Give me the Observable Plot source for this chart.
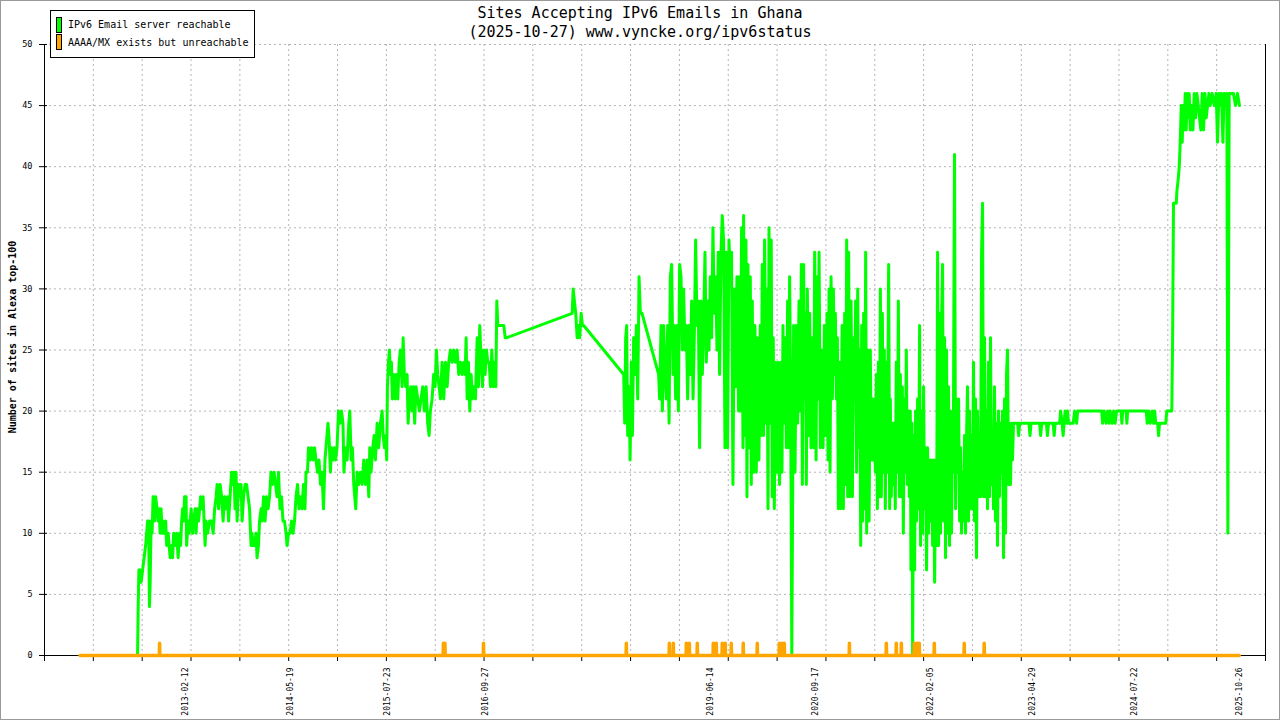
<!DOCTYPE html>
<html>
<head>
<meta charset="utf-8">
<script src="https://cdn.jsdelivr.net/npm/d3@7"></script>
<script src="https://cdn.jsdelivr.net/npm/@observablehq/plot@0.6"></script>
<style>
  html, body { margin: 0; padding: 0; background: #fff; }
  #wrap { position: relative; width: 1280px; height: 720px; overflow: hidden; background: #fff; font-family: "DejaVu Sans Mono", "Liberation Mono", monospace; }
  #chart { position: absolute; left: 0; top: 0; }
  .title { position: absolute; left: 0; top: 4px; width: 1280px; text-align: center; font-size: 15px; line-height: 19px; color: #000; }
  .legend { position: absolute; left: 50px; top: 10px; width: 205px; height: 48px; box-sizing: border-box; border: 1px solid #000; background: #fff; }
  .sw { position: absolute; width: 6px; box-sizing: border-box; border: 1px solid #000; }
  .lt { position: absolute; font-size: 10px; line-height: 14px; white-space: pre; color: #000; }
  .frame { position: absolute; left: 0; top: 0; width: 1280px; height: 720px; box-sizing: border-box; border: 1px solid #9a9a9a; pointer-events: none; }
</style>
</head>
<body>
<div id="wrap">
  <div id="chart"></div>
  <div class="title" id="title"></div>
  <div id="legend"></div>
  <div class="frame"></div>
</div>
<script>
// ---- text ----
const titleLines = ["Sites Accepting IPv6 Emails in Ghana", "(2025-10-27) www.vyncke.org/ipv6status"];
const yAxisLabel = "Number of sites in Alexa top-100";
const seriesNames = ["IPv6 Email server reachable", "AAAA/MX exists but unreachable"];
const seriesColors = ["#00ff00", "#ffa500"];

// ---- axes ----
const xDomain = ["2011-06-04", "2026-02-17"];
const xTickCount = 25;
const xLabelDates = ["2013-02-12", "2014-05-19", "2015-07-23", "2016-09-27", "2019-06-14", "2020-09-17", "2022-02-05", "2023-04-29", "2024-07-22", "2025-10-26"];
const yTicks = [0, 5, 10, 15, 20, 25, 30, 35, 40, 45, 50];

// ---- data: [decimal year, number of sites] ----
const reachable = [
[2011.851,0],[2012.542,0],[2012.550,4],[2012.558,7],[2012.573,7],[2012.585,6],[2012.603,7],[2012.621,8],[2012.639,9],[2012.651,10],[2012.663,11],[2012.675,11],[2012.685,4],[2012.694,6],[2012.705,11],[2012.717,10],[2012.729,13],[2012.747,11],[2012.759,13],[2012.777,12],[2012.789,11],[2012.801,12],[2012.813,10],[2012.825,12],[2012.837,10],[2012.849,11],[2012.862,10],[2012.880,11],[2012.892,9],[2012.910,10],[2012.922,9],[2012.934,8],[2012.952,9],[2012.964,8],[2012.976,10],[2012.994,9],
[2013.012,10],[2013.030,8],[2013.048,10],[2013.060,9],[2013.072,11],[2013.084,12],[2013.096,11],[2013.108,13],[2013.126,13],[2013.132,9],[2013.151,11],[2013.163,10],[2013.175,11],[2013.187,12],[2013.205,10],[2013.217,11],[2013.235,12],[2013.247,10],[2013.259,12],[2013.277,11],[2013.289,12],[2013.301,13],[2013.319,12],[2013.331,13],[2013.343,11],[2013.355,9],[2013.367,11],[2013.385,10],[2013.409,11],[2013.433,11],[2013.452,10],[2013.470,12],[2013.488,13],[2013.500,14],[2013.518,12],[2013.536,14],[2013.554,13],[2013.572,11],[2013.590,13],[2013.608,12],[2013.626,13],[2013.638,11],[2013.656,13],[2013.674,15],[2013.692,14],[2013.704,15],[2013.716,12],[2013.728,15],[2013.741,11],[2013.759,14],[2013.771,13],[2013.789,14],[2013.801,11],[2013.819,13],[2013.837,14],[2013.855,14],[2013.873,13],[2013.891,12],[2013.909,9],[2013.921,10],[2013.933,9],[2013.951,9],[2013.969,10],[2013.981,8],[2013.999,9],
[2014.011,11],[2014.030,12],[2014.042,11],[2014.060,13],[2014.078,11],[2014.096,13],[2014.114,12],[2014.132,13],[2014.150,15],[2014.168,14],[2014.186,15],[2014.204,14],[2014.222,13],[2014.240,15],[2014.258,12],[2014.276,13],[2014.294,11],[2014.312,11],[2014.331,10],[2014.343,9],[2014.361,10],[2014.379,10],[2014.397,11],[2014.415,10],[2014.433,11],[2014.451,13],[2014.469,14],[2014.487,12],[2014.505,13],[2014.523,12],[2014.541,14],[2014.559,12],[2014.571,15],[2014.589,15],[2014.601,17],[2014.620,16],[2014.638,17],[2014.656,16],[2014.674,17],[2014.692,16],[2014.710,15],[2014.728,16],[2014.746,14],[2014.764,15],[2014.782,12],[2014.800,16],[2014.812,17],[2014.824,18],[2014.836,19],[2014.848,18],[2014.866,15],[2014.878,17],[2014.896,16],[2014.914,17],[2014.927,16],[2014.945,17],[2014.963,20],[2014.981,19],[2014.999,20],[2015.017,19],[2015.029,15],
[2015.047,17],[2015.067,16],[2015.087,19],[2015.099,20],[2015.116,16],[2015.131,17],[2015.147,14],[2015.159,13],[2015.171,12],[2015.188,15],[2015.207,14],[2015.228,15],[2015.248,14],[2015.267,16],[2015.288,14],[2015.308,16],[2015.328,13],[2015.340,17],[2015.356,15],[2015.376,17],[2015.393,18],[2015.408,16],[2015.429,19],[2015.448,17],[2015.468,19],[2015.489,20],[2015.501,18],[2015.517,17],[2015.532,18],[2015.544,16],[2015.553,22],[2015.565,24],[2015.577,25],[2015.589,23],[2015.601,24],[2015.613,21],[2015.629,23],[2015.645,21],[2015.661,23],[2015.677,21],[2015.694,24],[2015.709,25],[2015.730,22],[2015.742,26],[2015.757,23],[2015.773,22],[2015.790,23],[2015.802,19],[2015.818,21],[2015.833,22],[2015.850,20],[2015.866,22],[2015.881,19],[2015.898,22],[2015.918,21],[2015.938,20],[2015.958,21],[2015.978,22],[2015.998,20],
[2016.019,22],[2016.038,19],[2016.055,18],[2016.070,20],[2016.091,21],[2016.110,23],[2016.127,22],[2016.143,25],[2016.158,23],[2016.175,22],[2016.191,21],[2016.211,24],[2016.231,21],[2016.251,24],[2016.272,22],[2016.291,24],[2016.311,25],[2016.332,24],[2016.351,25],[2016.371,24],[2016.392,25],[2016.411,23],[2016.432,24],[2016.452,23],[2016.471,24],[2016.488,23],[2016.500,26],[2016.512,21],[2016.528,24],[2016.544,20],[2016.560,23],[2016.576,21],[2016.592,22],[2016.612,21],[2016.633,26],[2016.648,22],[2016.664,27],[2016.681,24],[2016.697,22],[2016.712,25],[2016.729,23],[2016.745,25],[2016.760,24],[2016.777,24],[2016.793,22],[2016.809,25],[2016.825,22],[2016.841,24],[2016.857,22],[2016.869,29],[2016.881,27],[2016.913,27],[2016.953,27],[2016.970,26],[2016.986,26],
[2017.777,28],[2017.789,30],[2017.804,29],[2017.820,28],[2017.837,26],[2017.852,27],[2017.868,26],[2017.885,28],[2017.901,27],[2017.916,27],
[2018.398,23],[2018.410,19],[2018.422,26],[2018.434,27],[2018.446,18],[2018.463,22],[2018.475,16],[2018.491,24],[2018.503,18],[2018.518,26],[2018.535,23],[2018.551,27],[2018.567,21],[2018.583,31],[2018.599,28],[2018.619,28],
[2018.819,23],[2018.831,21],[2018.848,27],[2018.864,20],[2018.880,27],[2018.896,23],[2018.912,21],[2018.928,27],[2018.945,19],[2018.960,31],[2018.976,32],[2018.993,23],
[2019.008,27],[2019.024,21],[2019.041,27],[2019.057,20],[2019.072,32],[2019.089,31],[2019.105,25],[2019.120,30],[2019.137,25],[2019.153,27],[2019.169,21],[2019.185,27],[2019.201,23],[2019.217,29],[2019.234,21],[2019.249,26],[2019.265,34],[2019.282,27],[2019.297,29],[2019.313,17],[2019.330,29],[2019.346,23],[2019.361,27],[2019.378,33],[2019.394,24],[2019.409,29],[2019.426,25],[2019.442,31],[2019.458,26],[2019.474,35],[2019.490,28],[2019.506,31],[2019.523,25],[2019.538,33],[2019.554,23],[2019.571,33],[2019.586,36],[2019.602,34],[2019.619,17],[2019.635,33],[2019.650,17],[2019.667,34],[2019.683,31],[2019.698,33],[2019.715,14],[2019.731,30],[2019.747,22],[2019.763,31],[2019.783,20],
[2019.795,31],[2019.807,20],[2019.819,35],[2019.836,17],[2019.843,36],[2019.860,18],[2019.872,34],[2019.884,13],[2019.896,32],[2019.911,17],[2019.924,31],[2019.936,14],[2019.948,29],[2019.963,15],[2019.980,27],[2019.996,15],
[2020.011,26],[2020.028,16],[2020.044,27],[2020.056,18],[2020.068,32],[2020.084,18],[2020.096,34],[2020.113,19],[2020.125,30],[2020.137,12],[2020.149,35],[2020.164,19],[2020.176,34],[2020.188,13],[2020.200,26],[2020.213,12],[2020.228,24],[2020.245,15],[2020.261,24],[2020.276,14],[2020.293,24],[2020.305,15],[2020.317,27],[2020.329,19],[2020.345,26],[2020.357,17],[2020.373,29],[2020.385,17],[2020.397,31],[2020.409,22],[2020.423,0],[2020.445,27],[2020.462,15],[2020.477,27],[2020.493,19],[2020.510,29],[2020.526,20],[2020.538,32],[2020.550,14],[2020.565,32],[2020.577,21],[2020.589,28],[2020.598,14],[2020.610,30],[2020.626,18],[2020.638,28],[2020.654,17],[2020.670,26],[2020.686,17],[2020.698,33],[2020.715,16],[2020.727,31],[2020.739,21],[2020.751,33],[2020.766,17],[2020.782,25],[2020.799,17],[2020.815,27],[2020.830,18],[2020.847,28],[2020.859,16],[2020.871,30],[2020.883,15],[2020.895,31],[2020.911,21],[2020.923,30],[2020.935,23],[2020.947,28],[2020.959,21],[2020.971,26],[2020.983,12],[2020.999,24],
[2021.011,12],[2021.028,27],[2021.043,12],[2021.059,28],[2021.071,14],[2021.083,34],[2021.095,13],[2021.107,33],[2021.119,13],[2021.136,29],[2021.152,13],[2021.167,26],[2021.179,21],[2021.191,29],[2021.203,15],[2021.216,30],[2021.228,17],[2021.240,25],[2021.252,9],[2021.264,27],[2021.276,11],[2021.288,28],[2021.300,12],[2021.312,33],[2021.324,10],[2021.336,25],[2021.353,11],[2021.368,25],[2021.380,16],[2021.393,21],[2021.405,16],[2021.417,21],[2021.429,15],[2021.441,23],[2021.453,12],[2021.465,24],[2021.477,13],[2021.489,30],[2021.501,13],[2021.513,28],[2021.525,15],[2021.537,25],[2021.549,12],[2021.561,24],[2021.573,15],[2021.589,32],[2021.601,12],
[2021.609,21],[2021.621,13],[2021.633,19],[2021.645,14],[2021.657,19],[2021.669,12],[2021.681,24],[2021.694,15],[2021.706,29],[2021.718,13],[2021.730,23],[2021.742,13],[2021.754,22],[2021.766,10],[2021.778,21],[2021.790,15],[2021.802,25],[2021.814,14],[2021.826,20],[2021.838,13],[2021.850,20],[2021.858,7],[2021.871,19],[2021.878,0],[2021.890,18],[2021.902,7],[2021.914,20],[2021.926,11],[2021.938,21],[2021.950,12],[2021.962,27],[2021.974,9],[2021.986,20],[2021.998,10],
[2022.010,22],[2022.022,12],[2022.034,17],[2022.046,7],[2022.058,17],[2022.070,10],[2022.082,16],[2022.094,11],[2022.107,16],[2022.119,9],[2022.131,16],[2022.143,6],[2022.155,16],[2022.167,9],[2022.179,33],[2022.191,9],[2022.203,28],[2022.215,10],[2022.227,27],[2022.239,32],[2022.251,11],[2022.263,26],[2022.275,8],[2022.287,25],[2022.299,10],[2022.311,22],[2022.323,9],[2022.335,20],[2022.347,10],[2022.359,19],[2022.368,15],[2022.376,30],[2022.383,41],[2022.396,12],[2022.408,21],[2022.420,15],[2022.432,21],[2022.444,11],[2022.456,17],[2022.468,10],[2022.480,15],[2022.492,11],[2022.504,18],[2022.516,10],[2022.528,18],[2022.540,22],[2022.552,11],[2022.564,20],[2022.576,12],[2022.588,18],[2022.600,12],[2022.612,24],[2022.624,11],[2022.636,21],[2022.648,8],[2022.660,20],[2022.673,13],[2022.685,18],[2022.697,13],[2022.709,33],[2022.721,37],[2022.733,13],[2022.745,26],[2022.757,13],[2022.769,20],[2022.781,12],[2022.793,24],[2022.805,13],[2022.817,26],[2022.829,14],[2022.841,18],[2022.853,12],[2022.865,22],[2022.877,11],[2022.889,19],[2022.901,9],[2022.913,20],[2022.925,13],[2022.937,19],[2022.949,15],[2022.962,20],[2022.974,8],[2022.986,21],[2022.998,10],
[2023.010,23],[2023.022,25],[2023.034,14],[2023.046,19],[2023.058,14],[2023.070,19],[2023.082,16],[2023.094,19],
[2023.144,19],[2023.156,18],[2023.168,19],[2023.281,19],[2023.293,18],[2023.305,19],[2023.409,19],[2023.421,18],[2023.434,19],[2023.491,19],[2023.503,18],[2023.515,19],[2023.572,19],[2023.584,18],[2023.596,19],[2023.650,19],[2023.662,20],[2023.680,19],[2023.692,18],[2023.704,19],[2023.716,20],[2023.734,19],[2023.746,20],[2023.758,19],[2023.813,19],[2023.831,20],[2023.855,19],[2023.867,20],
[2024.156,20],[2024.168,19],[2024.186,20],[2024.210,19],[2024.228,20],[2024.246,19],[2024.258,20],[2024.282,19],[2024.300,20],[2024.318,19],[2024.336,20],[2024.391,20],[2024.399,19],[2024.409,20],[2024.451,20],[2024.459,19],[2024.469,20],[2024.692,20],[2024.704,19],[2024.722,20],[2024.740,19],[2024.764,20],[2024.780,19],[2024.794,20],[2024.806,19],[2024.830,19],[2024.840,18],[2024.852,19],[2024.927,19],[2024.939,20],[2024.999,20],
[2025.008,25],[2025.020,37],[2025.053,37],[2025.061,38],[2025.077,39],[2025.089,40],[2025.101,42],[2025.113,45],[2025.125,42],[2025.137,45],[2025.149,43],[2025.161,46],[2025.173,43],[2025.185,46],[2025.197,44],[2025.209,46],[2025.222,43],[2025.237,45],[2025.254,43],[2025.270,46],[2025.285,44],[2025.302,46],[2025.318,45],[2025.333,44],[2025.350,43],[2025.366,46],[2025.382,43],[2025.399,46],[2025.414,44],[2025.430,45],[2025.447,46],[2025.462,45],[2025.486,46],[2025.511,45],[2025.535,46],[2025.550,42],[2025.567,46],[2025.583,45],[2025.598,46],[2025.615,42],[2025.631,46],[2025.646,45],[2025.663,46],[2025.675,10],[2025.691,46],[2025.711,46],[2025.743,46],[2025.767,45],[2025.791,46],[2025.815,45]
];

const unreachable = [
[2011.851,0],[2012.804,0],[2012.807,1],[2012.810,0],[2016.224,0],[2016.227,1],[2016.230,0],[2016.242,0],[2016.245,1],[2016.248,0],[2016.706,0],[2016.709,1],[2016.712,0],
[2018.427,0],[2018.430,1],[2018.433,0],[2018.945,0],[2018.948,1],[2018.951,0],[2018.993,0],[2018.996,1],[2018.999,0],[2019.150,0],[2019.153,1],[2019.156,0],[2019.186,0],[2019.189,1],[2019.192,0],[2019.282,0],[2019.285,1],[2019.288,0],[2019.475,0],[2019.478,1],[2019.481,0],[2019.511,0],[2019.514,1],[2019.517,0],[2019.583,0],[2019.586,1],[2019.589,0],[2019.619,0],[2019.622,1],[2019.625,0],[2019.692,0],[2019.695,1],[2019.698,0],[2019.836,0],[2019.839,1],[2019.842,0],
[2020.005,0],[2020.008,1],[2020.011,0],[2020.270,0],[2020.273,1],[2020.276,0],[2020.306,0],[2020.309,1],[2020.312,0],[2020.330,0],[2020.333,1],[2020.336,0],[2021.113,0],[2021.116,1],[2021.119,0],[2021.558,0],[2021.561,1],[2021.564,0],[2021.678,0],[2021.681,1],[2021.684,0],[2021.739,0],[2021.742,1],[2021.745,0],[2021.895,0],[2021.898,1],[2021.901,0],[2021.931,0],[2021.934,1],[2021.937,0],[2021.955,0],[2021.958,1],[2021.961,0],
[2022.136,0],[2022.139,1],[2022.142,0],[2022.497,0],[2022.500,1],[2022.503,0],[2022.738,0],[2022.741,1],[2022.744,0],[2025.812,0]
];

// ---- build ----
const toDate = y => { const yr = Math.floor(y); const a = Date.UTC(yr, 0, 1), b = Date.UTC(yr + 1, 0, 1); return new Date(a + (y - yr) * (b - a)); };
const reachRows = reachable.map(([t, v]) => ({date: toDate(t), value: v}));
const unreachRows = unreachable.map(([t, v]) => ({date: toDate(t), value: v}));
const x0 = new Date(xDomain[0]), x1 = new Date(xDomain[1]);
const xTicks = d3.range(xTickCount + 1).map(i => new Date(+x0 + i * (x1 - x0) / xTickCount));
const labelDates = xLabelDates.map(s => new Date(s));
const fmt = d3.utcFormat("%Y-%m-%d");
const gridStyle = {stroke: "#b4b4b4", strokeOpacity: 1, strokeDasharray: "2,3"};

const plot = Plot.plot({
  width: 1280, height: 720,
  marginLeft: 44, marginRight: 15, marginTop: 44, marginBottom: 65,
  style: {fontFamily: "DejaVu Sans Mono", background: "transparent", color: "#000", overflow: "visible"},
  x: {type: "utc", domain: [x0, x1], label: null},
  y: {domain: [0, 50], label: null},
  marks: [
    Plot.gridX(xTicks.slice(1, -1), gridStyle),
    Plot.gridY(yTicks.slice(1), gridStyle),
    Plot.ruleX([x0], {stroke: "#000"}),
    Plot.ruleX([x1], {stroke: "#000"}),
    Plot.ruleY([0], {stroke: "#000"}),
    Plot.axisX(xTicks, {tickSize: 6, tickFormat: () => "", label: null}),
    Plot.axisX(labelDates, {tickSize: 0, tickPadding: 12, tickRotate: -90, tickFormat: fmt, fontSize: 8, label: null}),
    Plot.axisY(yTicks, {tickSize: 8, dx: 3, tickPadding: 7, fontSize: 8.5, label: null}),
    Plot.line(reachRows, {x: "date", y: "value", stroke: seriesColors[0], strokeWidth: 3}),
    Plot.line(unreachRows, {x: "date", y: "value", stroke: seriesColors[1], strokeWidth: 3.5}),
    Plot.text([yAxisLabel], {frameAnchor: "left", rotate: -90, dx: -32, dy: -13, fontSize: 10, fontWeight: "bold", fill: "#000", textAnchor: "middle"})
  ]
});
document.getElementById("chart").appendChild(plot);

// title
const t = document.getElementById("title");
t.innerHTML = titleLines.map(s => `<div>${s}</div>`).join("");

// legend
const lg = document.getElementById("legend");
lg.innerHTML = `
  <div class="legend"></div>
  <div class="sw" style="left:56px;top:17px;height:16px;background:${seriesColors[0]}"></div>
  <div class="lt" style="left:68px;top:18px">${seriesNames[0]}</div>
  <div class="sw" style="left:56px;top:34px;height:16px;background:${seriesColors[1]}"></div>
  <div class="lt" style="left:68px;top:36px">${seriesNames[1]}</div>`;
</script>
</body>
</html>
